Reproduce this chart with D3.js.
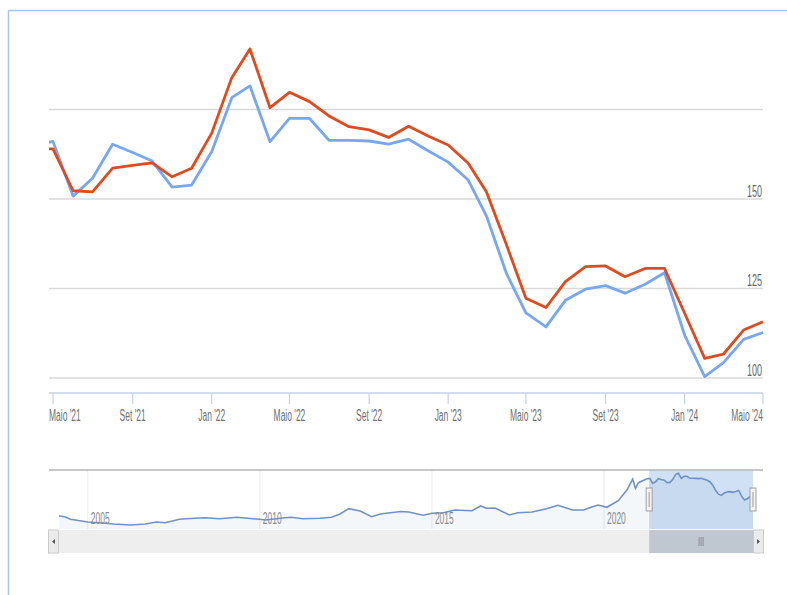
<!DOCTYPE html>
<html>
<head>
<meta charset="utf-8">
<title>Index chart</title>
<style>
  html, body { margin: 0; padding: 0; background: #fff; }
  svg { display: block; }
  text { font-family: "Liberation Sans", Arial, sans-serif; }
</style>
</head>
<body>
<div id="chart"></div>
<script src="https://cdn.jsdelivr.net/npm/d3@7/dist/d3.min.js"></script>
<script>
// monthly values shown in the main chart (Apr '21 .. May '24)
var months = ["2021-04","2021-05","2021-06","2021-07","2021-08","2021-09","2021-10","2021-11","2021-12",
  "2022-01","2022-02","2022-03","2022-04","2022-05","2022-06","2022-07","2022-08","2022-09","2022-10","2022-11","2022-12",
  "2023-01","2023-02","2023-03","2023-04","2023-05","2023-06","2023-07","2023-08","2023-09","2023-10","2023-11","2023-12",
  "2024-01","2024-02","2024-03","2024-04","2024-05"];
var blueValues = [164.9,166.1,150.8,155.8,165.3,163.0,160.6,153.3,153.9,
  163.2,178.3,181.6,166.0,172.5,172.5,166.4,166.4,166.2,165.3,166.7,163.5,
  160.3,155.3,145.3,129.2,118.2,114.3,121.7,124.8,125.8,123.7,126.2,129.4,
  112.0,100.4,104.3,110.8,112.7];
var redValues = [164.0,164.0,152.3,152.0,158.6,159.4,160.1,156.2,158.6,
  168.4,183.9,191.9,175.5,179.8,177.2,173.2,170.2,169.3,167.2,170.3,167.6,
  165.1,160.0,152.0,137.2,122.3,119.7,126.9,131.1,131.3,128.3,130.6,130.6,
  118.1,105.5,106.7,113.4,115.7];

// longer history, only visible in the navigator
var histDates = ["2004-03","2004-05","2004-07","2005-01","2005-05","2005-10","2006-04","2006-09","2007-01",
  "2007-04","2007-09","2007-11","2008-06","2008-11","2009-05","2010-01","2010-03","2010-09","2010-12",
  "2011-04","2011-10","2012-02","2012-05","2012-08","2012-12","2013-04","2013-07","2014-02","2014-05",
  "2014-10","2015-01","2015-05","2015-09","2016-03","2016-06","2016-08","2016-11","2017-04","2017-07",
  "2017-12","2018-05","2018-09","2019-02","2019-06","2019-09","2019-11","2020-02","2020-06","2020-09",
  "2020-11","2020-12","2021-01"];
var histValues = [51.8,49.6,41.7,33.5,31.4,27.5,24.4,27.5,33.5,
  31.4,41.7,43.6,46.6,43.6,47.8,41.7,39.6,45.7,47.8,
  43.6,44.8,47.8,57.8,74.0,67.0,49.6,57.8,65.4,63.9,
  53.9,60.0,61.8,70.0,67.9,82.2,75.2,76.1,54.8,61.8,
  63.9,74.0,84.3,70.0,70.0,80.0,85.2,78.2,98.3,130.8,
  164.2,136.0,153.0];

var xTicks = ["2021-05","2021-09","2022-01","2022-05","2022-09","2023-01","2023-05","2023-09","2024-01","2024-05"];
var xTickLabels = ["Maio '21","Set '21","Jan '22","Maio '22","Set '22","Jan '23","Maio '23","Set '23","Jan '24","Maio '24"];
var yGrid = [100,125,150,175];
var yLabels = [100,125,150];
var navYears = [2005,2010,2015,2020];

var width = 787, height = 595;
var parse = d3.timeParse("%Y-%m");
var squeeze = 0.53;

var svg = d3.select("#chart").append("svg")
  .attr("width", width).attr("height", height);

// outer frame (only top and left edges are in view)
svg.append("path")
  .attr("d", "M8.5," + height + "V10.5H" + width)
  .attr("fill", "none").attr("stroke", "#a9c6ee").attr("stroke-width", 1.5);

var plotLeft = 49, plotRight = 763, plotTop = 15, plotBottom = 393;

var x = d3.scaleTime()
  .domain([parse("2021-05"), parse("2024-05")])
  .range([53, 763]);
var y = d3.scaleLinear()
  .domain([100, 175])
  .range([378, 109.5]);

// grid
svg.append("g").selectAll("line").data(yGrid).enter().append("line")
  .attr("x1", plotLeft).attr("x2", plotRight)
  .attr("y1", function(d) { return y(d); }).attr("y2", function(d) { return y(d); })
  .attr("stroke", "#d9d9d9").attr("stroke-width", 1.5);

svg.append("g").selectAll("text").data(yLabels).enter().append("text")
  .attr("transform", function(d) { return "translate(762," + (y(d) - 2.5) + ") scale(" + squeeze + ",1)"; })
  .attr("text-anchor", "end")
  .attr("font-size", 17).attr("fill", "#666")
  .text(function(d) { return d; });

// x axis
svg.append("line")
  .attr("x1", plotLeft).attr("x2", plotRight)
  .attr("y1", plotBottom).attr("y2", plotBottom)
  .attr("stroke", "#c3d3e6").attr("stroke-width", 1.5);

var tickG = svg.append("g");
xTicks.forEach(function(t, i) {
  var tx = x(parse(t));
  tickG.append("line")
    .attr("x1", tx).attr("x2", tx).attr("y1", plotBottom).attr("y2", plotBottom + 11)
    .attr("stroke", "#c3d3e6").attr("stroke-width", 1.2);
  var anchor = "middle", lx = tx;
  if (i === 0) { anchor = "start"; lx = plotLeft; }
  if (i === xTicks.length - 1) { anchor = "end"; lx = plotRight; }
  tickG.append("text")
    .attr("transform", "translate(" + lx + ",421) scale(" + squeeze + ",1)")
    .attr("text-anchor", anchor)
    .attr("font-size", 16).attr("fill", "#707070")
    .text(xTickLabels[i]);
});

// series
svg.append("clipPath").attr("id", "plotClip").append("rect")
  .attr("x", plotLeft).attr("y", plotTop)
  .attr("width", plotRight - plotLeft + 2).attr("height", plotBottom - plotTop);

var line = d3.line()
  .x(function(d) { return x(d[0]); })
  .y(function(d) { return y(d[1]); });

var blueData = months.map(function(m, i) { return [parse(m), blueValues[i]]; });
var redData = months.map(function(m, i) { return [parse(m), redValues[i]]; });

var seriesG = svg.append("g").attr("clip-path", "url(#plotClip)");
seriesG.append("path").datum(blueData)
  .attr("d", line).attr("fill", "none")
  .attr("stroke", "#78a7f2").attr("stroke-width", 2.8).attr("stroke-linejoin", "round");
seriesG.append("path").datum(redData)
  .attr("d", line).attr("fill", "none")
  .attr("stroke", "#e04a1f").attr("stroke-width", 2.8).attr("stroke-linejoin", "round");

// navigator
var navTop = 470, navBottom = 529;
var navData = histDates.map(function(m, i) { return [parse(m), histValues[i]]; }).concat(blueData);

var nx = d3.scaleTime()
  .domain([parse("2004-03"), parse("2024-05")])
  .range([59, 753]);
var ny = d3.scaleLinear()
  .domain([24.4, 181.6])
  .range([525, 473.3]);

var navG = svg.append("g");

// selected range
var selStart = x.invert(plotLeft), selEnd = parse("2024-05");
navG.append("rect")
  .attr("x", nx(selStart)).attr("y", navTop)
  .attr("width", nx(selEnd) - nx(selStart)).attr("height", navBottom - navTop)
  .attr("fill", "#d0e1f5");

navG.selectAll("line.yr").data(navYears).enter().append("line")
  .attr("x1", function(d) { return nx(new Date(d, 0, 1)); })
  .attr("x2", function(d) { return nx(new Date(d, 0, 1)); })
  .attr("y1", navTop).attr("y2", navBottom)
  .attr("stroke", "#ebebeb").attr("stroke-width", 1);

navG.append("path").datum(navData)
  .attr("d", d3.area()
    .x(function(d) { return nx(d[0]); })
    .y0(navBottom)
    .y1(function(d) { return ny(d[1]); }))
  .attr("fill", "rgba(69,114,167,0.06)");

navG.append("path").datum(navData)
  .attr("d", d3.line()
    .x(function(d) { return nx(d[0]); })
    .y(function(d) { return ny(d[1]); }))
  .attr("fill", "none").attr("stroke", "#6f92c6").attr("stroke-width", 1.6);

navG.selectAll("text").data(navYears).enter().append("text")
  .attr("transform", function(d) { return "translate(" + (nx(new Date(d, 0, 1)) + 3) + ",524) scale(" + squeeze + ",1)"; })
  .attr("font-size", 16).attr("fill", "#8a8a8a")
  .text(function(d) { return d; });

navG.append("line")
  .attr("x1", plotLeft).attr("x2", plotRight).attr("y1", navTop).attr("y2", navTop)
  .attr("stroke", "#b5b5b5").attr("stroke-width", 1.5);

// handles
[nx(selStart), nx(selEnd)].forEach(function(hx) {
  navG.append("rect")
    .attr("x", hx - 3).attr("y", 488).attr("width", 6).attr("height", 23)
    .attr("fill", "#f2f2f2").attr("stroke", "#a0a0a0").attr("stroke-width", 1);
  navG.append("line")
    .attr("x1", hx).attr("x2", hx).attr("y1", 492).attr("y2", 507)
    .attr("stroke", "#9a9a9a").attr("stroke-width", 1);
});

// scrollbar
var sbTop = 530, sbH = 23;
navG.append("rect")
  .attr("x", plotLeft).attr("y", sbTop).attr("width", plotRight - plotLeft).attr("height", sbH)
  .attr("fill", "#eeeeee");
navG.append("rect")
  .attr("x", nx(selStart)).attr("y", sbTop)
  .attr("width", nx(selEnd) - nx(selStart)).attr("height", sbH)
  .attr("fill", "#bfc7d1");
var gripX = (nx(selStart) + nx(selEnd)) / 2;
[-2, 0, 2].forEach(function(o) {
  navG.append("line")
    .attr("x1", gripX + o).attr("x2", gripX + o).attr("y1", sbTop + 7).attr("y2", sbTop + 16)
    .attr("stroke", "#8a8f96").attr("stroke-width", 1);
});
[[48.5, 1], [753.5, -1]].forEach(function(b) {
  navG.append("rect")
    .attr("x", b[0]).attr("y", sbTop).attr("width", 10).attr("height", sbH)
    .attr("fill", "#ebebeb").attr("stroke", "#cccccc").attr("stroke-width", 1);
  var cx = b[0] + 5, cy = sbTop + sbH / 2;
  navG.append("path")
    .attr("d", "M" + (cx + 1.5 * b[1]) + "," + (cy - 2.5) + "L" + (cx - 1.5 * b[1]) + "," + cy + "L" + (cx + 1.5 * b[1]) + "," + (cy + 2.5) + "Z")
    .attr("fill", "#555");
});
</script>
</body>
</html>
